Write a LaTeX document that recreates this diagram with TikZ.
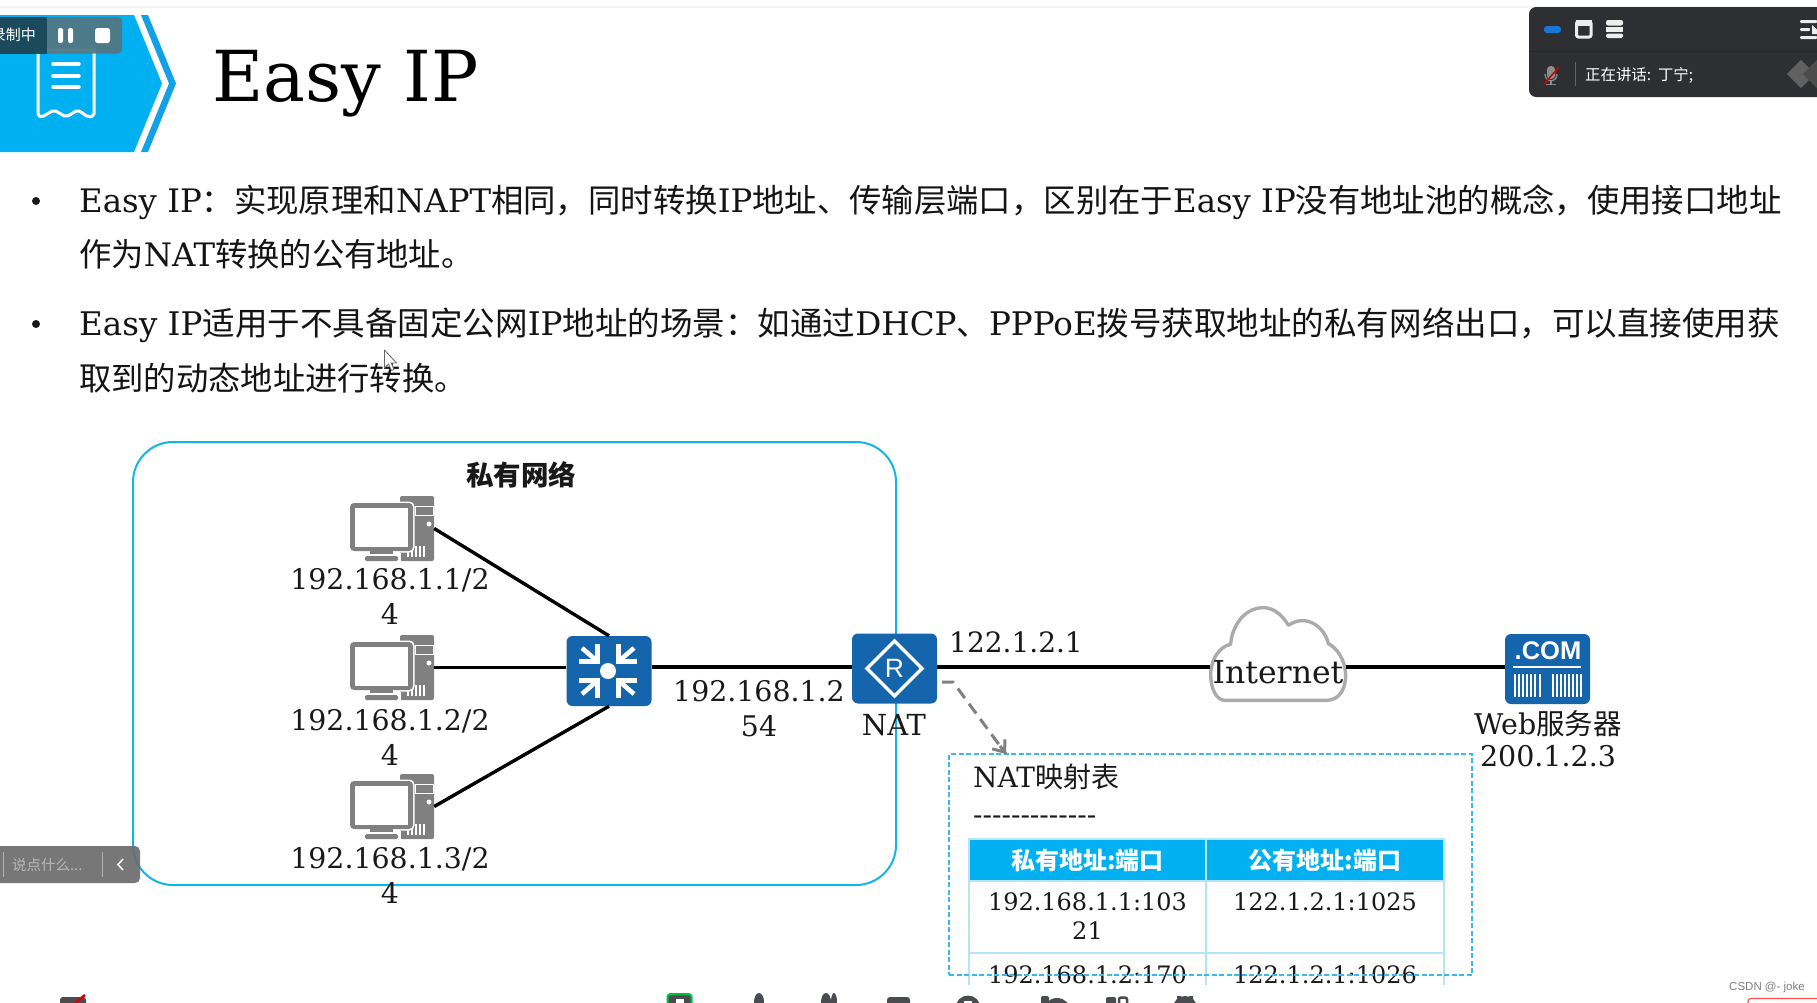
\documentclass[tikz,border=0pt]{standalone}
\usepackage{fontspec}
\usetikzlibrary{arrows.meta,shapes.geometric}
\setmainfont{DejaVu Serif}
\newfontfamily\cjf{Noto Sans CJK SC}
\newfontfamily\libf{Liberation Sans}
\newcommand{\cj}[1]{{\cjf #1}}
\newcommand{\fs}[2]{\fontsize{#1}{#2}\selectfont}
\definecolor{hwblue}{HTML}{1565AC}
\definecolor{skyb}{HTML}{00B0F0}
\definecolor{chev}{HTML}{12A0E6}
\definecolor{netline}{HTML}{12B5EA}
\definecolor{dashb}{HTML}{3AB9EA}
\definecolor{tabline}{HTML}{B5E5F7}
\definecolor{pcgray}{HTML}{808080}
\definecolor{panel}{HTML}{2D2F33}
\definecolor{tooldark}{HTML}{4A4C50}
\definecolor{recbar}{HTML}{527682}
\definecolor{recdark}{HTML}{18485A}
\definecolor{chatbar}{HTML}{6C6C6C}
\definecolor{pill}{HTML}{1976D2}
\tikzset{
  x=1pt,y=-1pt,
  bodyline/.style={anchor=base west,inner sep=0,font=\fs{32.4}{40},text=black!92},
  bullet/.style={circle,fill=black!90,inner sep=0,minimum size=8pt},
  hwbox/.style={rectangle,rounded corners=6pt,fill=hwblue,inner sep=0,minimum width=85pt,minimum height=70pt},
  pcbox/.style={rectangle,inner sep=0,minimum width=84pt,minimum height=65pt},
  iplabel/.style={anchor=base,inner sep=0,font=\fs{28.4}{35},align=center,text=black!90},
  link/.style={draw=black,line width=3.4pt},
  cell/.style={anchor=base,inner sep=0,font=\fs{24}{29},align=center,text=black!90},
  headcell/.style={anchor=center,inner sep=0,font=\cjf\bfseries\fs{24}{29},text=white},
  pics/pcicon/.style={code={
    \fill[pcgray,rounded corners=2pt] (50,0) rectangle (84,65);
    \draw[white,line width=1pt] (65,10) rectangle (83,19);
    \fill[white] (79,28) circle (2.5);
    \foreach \sx in {58,62,66,70,74}{\draw[white,line width=1.3pt] (\sx,50) -- (\sx,61);}
    \fill[white,rounded corners=5pt] (-1.5,5.5) rectangle (64.5,56.5);
    \fill[pcgray,rounded corners=4pt] (0,7) rectangle (63,55);
    \fill[white] (5,12) rectangle (58,51);
    \fill[white] (49,56.5) rectangle (51,66);
    \fill[pcgray] (20,55) rectangle (43,58);
    \fill[pcgray,rounded corners=1.5pt] (15,60) rectangle (48,65);
  }}
}
\begin{document}
\begin{tikzpicture}
\useasboundingbox (0,0) rectangle (1817,1002);
\fill[white] (0,0) rectangle (1817,1002);
\clip (0,0) rectangle (1817,1002);

% top hairline
\fill[black!4] (0,5.5) rectangle (1817,8);

% banner
\fill[skyb] (0,15) -- (134,15) -- (162,83.5) -- (134,152) -- (0,152) -- cycle;
\fill[chev] (141,15) -- (148,15) -- (176,83.5) -- (148,152) -- (141,152) -- (169,83.5) -- cycle;
\draw[white,line width=3pt,line join=round,rounded corners=2pt] (38,50) -- (94,50) -- (94,116) -- (88,117) -- (78,110) -- (66,117) -- (54,110) -- (42,117) -- (38,116) -- cycle;
\foreach \ly in {64,76,87}{\draw[white,line width=3.5pt,line cap=round] (53,\ly) -- (79,\ly);}
\node[anchor=base west,inner sep=0,font=\fs{70.3}{80},text=black] (title) at (212,101) {Easy IP};

% recording bar
\fill[recbar,fill opacity=.93,rounded corners=4pt] (-10,17) rectangle (122,53.5);
\fill[recdark,fill opacity=.95] (0,17) rectangle (47,53.5);
\node[anchor=east,inner sep=0,text=white,font=\cjf\fs{15}{18}] (rec) at (36,35) {录制中};
\fill[white,rounded corners=2pt] (58,28) rectangle (63,43);
\fill[white,rounded corners=2pt] (68,28) rectangle (73,43);
\fill[white,rounded corners=2.5pt] (95,28) rectangle (110,43);

% speaker panel
\fill[panel,rounded corners=7pt] (1529,7) rectangle (1840,97);
\draw[black!85,line width=1pt] (1529,51.5) -- (1817,51.5);
\fill[pill,rounded corners=3pt] (1544,26) rectangle (1561,33);
\draw[black!7,line width=3pt,rounded corners=2pt] (1576.5,21.5) rectangle (1591,37);
\fill[black!7] (1576,20) rectangle (1592,26);
\fill[black!7,rounded corners=2pt] (1606,20) rectangle (1623,25.5);
\fill[black!7] (1606,27) rectangle (1623,31.5);
\fill[black!7,rounded corners=1.5pt] (1606,33.5) rectangle (1623,38);
\fill[black!7,rounded corners=1pt] (1800,20) rectangle (1817,23);
\fill[black!7,rounded corners=1pt] (1800,28) rectangle (1810,31);
\fill[black!7,rounded corners=1pt] (1800,36) rectangle (1817,39);
\fill[black!7] (1812,25) -- (1817,29.5) -- (1817,34) -- (1812,34) -- cycle;
\fill[black!45,rounded corners=3.5pt] (1547,66) rectangle (1555,79);
\draw[black!45,line width=1.3pt] (1545,74) .. controls (1545,83) and (1557,83) .. (1557,74);
\draw[black!45,line width=1.3pt] (1551,81) -- (1551,84) (1546,84.5) -- (1556,84.5);
\draw[red!80!black,line width=1.5pt] (1544,84) -- (1559,67);
\draw[black!60,line width=1pt] (1575.5,62) -- (1575.5,86);
\node[anchor=west,inner sep=0,text=white,font=\cjf\fs{15.4}{18}] (spk) at (1585,75) {正在讲话:\ \ 丁宁;};
\fill[black!62,rotate around={45:(1801,74)}] (1791,64) rectangle (1811,84);
\fill[black!70,rotate around={45:(1817,74)}] (1807,64) rectangle (1827,84);

% body text
\node[bullet] (b1) at (36,201) {};
\node[bullet] (b2) at (36,324) {};
\node[bodyline,font=\fs{32.37}{40}] (l1) at (79,212) {Easy IP\cj{：实现原理和}NAPT\cj{相同，同时转换}IP\cj{地址、传输层端口，区别在于}Easy IP\cj{没有地址池的概念，使用接口地址}};
\node[bodyline,font=\fs{32.3}{40}] (l2) at (79,266) {\cj{作为}NAT\cj{转换的公有地址。}};
\node[bodyline,font=\fs{32.53}{40}] (l3) at (79,335) {Easy IP\cj{适用于不具备固定公网}IP\cj{地址的场景：如通过}DHCP\cj{、}PPPoE\cj{拨号获取地址的私有网络出口，可以直接使用获}};
\node[bodyline,font=\fs{32.3}{40}] (l4) at (79,390) {\cj{取到的动态地址进行转换。}};
% mouse pointer
\filldraw[fill=white,draw=black!60,line width=.8pt,line join=round] (384.5,350) -- (384.5,368) -- (388.5,364) -- (391.5,370.5) -- (394,369.5) -- (391.2,363) -- (396.5,363) -- cycle;

\begin{scope}[yshift=-1pt]
% private network
\node[draw=netline,line width=2pt,rounded corners=40pt,inner sep=0,minimum width=763pt,minimum height=443pt] (net) at (514.5,662.5) {};
\node[inner sep=0,font=\cjf\bfseries\fs{27.5}{32},text=black!90] (nettitle) at (521,474) {私有网络};

% PCs
\node[pcbox] (pc1) at (392,527.5) {};
\node[pcbox] (pc2) at (392,666.5) {};
\node[pcbox] (pc3) at (392,805.5) {};
\pic at (350,495) {pcicon};
\pic at (350,634) {pcicon};
\pic at (350,773) {pcicon};
\node[iplabel] (ip1) at (390,623) {192.168.1.1/2\\4};
\node[iplabel] (ip2) at (390,764) {192.168.1.2/2\\4};
\node[iplabel] (ip3) at (390,902) {192.168.1.3/2\\4};

% switch
\node[hwbox] (sw) at (609,670) {};
\fill[white] (608,670) circle (8);
\foreach \sx/\sy in {-1/-1,1/-1,-1/1,1/1}{
  \draw[white,line width=4.6pt] (608+\sx*29,670+\sy*9.5) -- (608+\sx*10.5,670+\sy*9.5) -- (608+\sx*10.5,670+\sy*27);
  \draw[white,line width=4.6pt] (608+\sx*11,670+\sy*10) -- (608+\sx*26,670+\sy*23);
}

% router
\node[hwbox] (rt) at (894.5,667.5) {};
\draw[white,line width=3.5pt,line join=miter] (894.5,640) -- (922,667.5) -- (894.5,695) -- (867,667.5) -- cycle;
\node[inner sep=0,text=white,font=\libf\fs{26.5}{30}] (rtR) at (894.5,667.5) {R};
\node[anchor=base,inner sep=0,font=\fs{29}{32},text=black!90] (natlab) at (894,734) {NAT};

% cloud
\node[inner sep=0,minimum width=136pt,minimum height=94pt] (cloud) at (1278,666) {};
\begin{scope}[shift={(1180,590)},x=.3333pt,y=-.3333pt]
\draw[draw=black!33,line width=3.4pt,line join=round,fill=white] (135,328) -- (440,328) .. controls (480,328) and (498,290) .. (497,250) .. controls (495,205) and (470,170) .. (445,158) .. controls (435,110) and (380,65) .. (325,103) .. controls (300,60) and (270,50) .. (250,50) .. controls (190,50) and (155,110) .. (152,160) .. controls (120,165) and (92,205) .. (92,250) .. controls (92,295) and (110,328) .. (135,328) -- cycle;
\end{scope}
\node[anchor=base,inner sep=0,font=\fs{31.5}{36},text=black!90] (inet) at (1278,682) {Internet};

% server
\node[hwbox] (srv) at (1547.5,668) {};
\node[anchor=base,inner sep=0,text=white,font=\libf\bfseries\fs{25.5}{28}] (com) at (1548,658) {.COM};
\draw[white,line width=2pt] (1513,666) -- (1581,666);
\foreach \bx in {1515,1519,1523,1527,1531,1535,1540,1553,1557,1561,1565,1569,1573,1577,1581}{\draw[white,line width=1.4pt] (\bx,673) -- (\bx,696);}
\node[iplabel,font=\fs{28.5}{32}] (webl) at (1548,765) {Web\cj{服务器}\\200.1.2.3};

% connectors
\draw[link] (pc1.east) -- (sw.north);
\draw[link] (pc2.east) -- (pc2.east -| sw.west);
\draw[link] (pc3.east) -- (sw.south);
\coordinate (swr) at (sw.east |- 0,666);
\coordinate (rtl) at (rt.west |- 0,666);
\coordinate (rtr) at (rt.east |- 0,666);
\coordinate (cll) at (cloud.west |- 0,666);
\coordinate (clr) at (cloud.east |- 0,666);
\coordinate (srl) at (srv.west |- 0,666);
\draw[link] (swr) -- (rtl);
\draw[link] (rtr) -- (cll);
\draw[link] (clr) -- (srl);
\node[iplabel] (ipsw) at (759,735) {192.168.1.2\\54};
\node[anchor=base west,inner sep=0,font=\fs{28}{32},text=black!90] (iprt) at (949,651) {122.1.2.1};

% NAT table
\begin{scope}
\clip (960,830) rectangle (1460,983);
\fill[skyb] (969,838) rectangle (1444,880);
\draw[tabline,line width=2.4pt] (969,838) rectangle (1444,880);
\draw[tabline,line width=2.4pt] (969,880) -- (969,990) (1206,838) -- (1206,990) (1444,880) -- (1444,990);
\draw[tabline,line width=2.4pt] (969,952) -- (1444,952);
\end{scope}
\node[headcell] (h1) at (1087.5,859) {私有地址:端口};
\node[headcell] (h2) at (1325,859) {公有地址:端口};
\node[cell] (c11) at (1087.5,938) {192.168.1.1:103\\21};
\node[cell] (c12) at (1325,909) {122.1.2.1:1025};
\node[cell] (c21) at (1087.5,982) {192.168.1.2:170};
\node[cell] (c22) at (1325,982) {122.1.2.1:1026};
\node[anchor=base west,inner sep=0,font=\fs{28}{32},text=black!90] (nt) at (973,786) {NAT\cj{映射表}};
\node[anchor=base west,inner sep=0,font=\fs{28}{32},text=black!90] (nd) at (973,823) {-{}-{}-{}-{}-{}-{}-{}-{}-{}-{}-{}-{}-};
\node[rectangle,draw=dashb,line width=2pt,dash pattern=on 5pt off 2.5pt,inner sep=0,minimum width=523pt,minimum height=221pt] (natbox) at (1210.5,863.5) {};
\coordinate (ds) at (942,681);
\coordinate (db) at (953,681);
\coordinate (de) at (1006,753);
\draw[pcgray,line width=3pt,dash pattern=on 12pt off 7pt] (ds) -- (db) -- (de);
\draw[pcgray,line width=3pt,-{Straight Barb[length=10pt,width=16pt]}] (1000,745) -- (de);
\end{scope}

% chat bar
\fill[chatbar,fill opacity=.92,rounded corners=5pt] (-10,846) rectangle (140,883);
\draw[black!30,line width=1pt] (3,852) -- (3,877) (102.5,852) -- (102.5,877);
\node[anchor=west,inner sep=0,text=black!28,font=\cjf\fs{14.5}{18}] (chat) at (12,865) {说点什么...};
\draw[white,line width=1.5pt] (123,859) -- (118,864.5) -- (123,870);

% bottom toolbar fragments
\fill[tooldark,rounded corners=3pt] (60,997) rectangle (86,1010);
\draw[red!85!black,line width=2.5pt] (74,1004) -- (85,995);
\filldraw[fill=tooldark,draw=green!65!cyan!75!black,line width=2pt,rounded corners=3pt] (667.5,994) rectangle (691.5,1010);
\fill[white] (676,999) rectangle (684,1003);
\fill[tooldark] (759,1002) ellipse (5 and 9);
\fill[tooldark] (826,1002) ellipse (5 and 9);
\fill[tooldark] (834,1002) ellipse (3 and 9);
\fill[tooldark,rounded corners=3pt] (887,997) rectangle (910,1010);
\fill[tooldark] (968,1008) circle (12.5);
\fill[white] (964,1001) rectangle (972,1010);
\fill[tooldark,rounded corners=2pt] (1041,996) rectangle (1049,1006);
\fill[tooldark] (1057,1012) circle (14);
\fill[tooldark,rounded corners=2pt] (1106,997) rectangle (1116,1008);
\filldraw[fill=white,draw=tooldark,line width=2.5pt,rounded corners=2pt] (1119,997.5) rectangle (1127,1008);
\fill[tooldark] (1185,1008) circle (12);
\fill[tooldark] (1177,996) rectangle (1181,1002) (1189,996) rectangle (1193,1002);

% footer
\node[anchor=west,inner sep=0,text=black!50,font=\libf\fs{11.5}{14}] (csdn) at (1729,988) {CSDN @- joke};
\draw[red!70,line width=1.2pt,rounded corners=3pt] (1748,1010) -- (1748,998.5) -- (1825,998.5);
\end{tikzpicture}
\end{document}
